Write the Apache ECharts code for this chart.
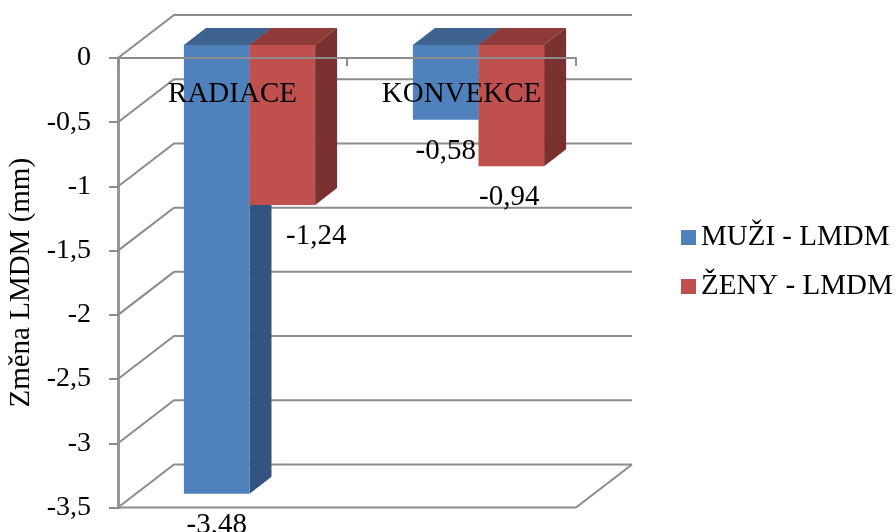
<!DOCTYPE html>
<html>
<head>
<meta charset="utf-8">
<script src="https://cdn.jsdelivr.net/npm/echarts@6/dist/echarts.min.js"></script>
<style>html,body{margin:0;padding:0;background:#fff}#c{width:896px;height:532px}</style>
</head>
<body>
<div id="c"></div>
<script>
// Values of the chart
const categories = ['RADIACE', 'KONVEKCE'];
const seriesNames = ['MUŽI - LMDM', 'ŽENY - LMDM'];
const muziValues = [-3.48, -0.58];
const zenyValues = [-1.24, -0.94];
const axisTicks = [0, -0.5, -1, -1.5, -2, -2.5, -3, -3.5];

// Fake 3D projection, in pixels
const WALL_DX = 56, WALL_DY = -43;    // depth of the chart box
const BAR_SHIFT_X = 17, BAR_SHIFT_Y = -13; // bars stand inside the box
const BAR_DX = 22, BAR_DY = -17;      // depth of one bar
const BAR_BAND = 0.2865;              // bar width as a share of a category band
const BAR_SCALE = 1.004;              // vertical perspective of the bar plane
const GRID = '#8c8c8c';
const FONT = '"Liberation Serif", "Times New Roman", serif';
const FONT_SIZE = 29;

const comma = v => String(v).replace('.', ',');
const poly = (points, fill) => ({ type: 'polygon', shape: { points }, style: { fill } });

function boxRender(params, api) {
  const rect = params.coordSys;
  const v = api.value(1);
  const y = api.coord([0, v])[1];
  const x0 = rect.x, x1 = rect.x + rect.width;
  const style = { stroke: GRID, lineWidth: 2, fill: null };
  const children = [{
    type: 'polyline',
    shape: { points: [[x0, y], [x0 + WALL_DX, y + WALL_DY], [x1 + WALL_DX, y + WALL_DY]] },
    style
  }];
  if (v === axisTicks[axisTicks.length - 1]) {
    children.push({
      type: 'polyline',
      shape: { points: [[x0, y], [x1, y], [x1 + WALL_DX, y + WALL_DY]] },
      style
    });
  }
  return { type: 'group', children };
}

function barRender(slot, front, top, side, labelShift) {
  return function (params, api) {
    const cat = api.value(0), v = api.value(1);
    const band = api.size([1, 0])[0];
    const w = band * BAR_BAND;
    const c = api.coord([cat, 0]);
    const b = api.coord([cat, v]);
    const xl = c[0] + BAR_SHIFT_X + (slot - 1) * w;
    const xr = xl + w;
    const yt = c[1] + BAR_SHIFT_Y;
    const yb = yt + (b[1] - c[1]) * BAR_SCALE;
    const shift = labelShift[params.dataIndex];
    return {
      type: 'group',
      children: [
        poly([[xl, yt], [xr, yt], [xr + BAR_DX, yt + BAR_DY], [xl + BAR_DX, yt + BAR_DY]], top),
        poly([[xr, yt], [xr + BAR_DX, yt + BAR_DY], [xr + BAR_DX, yb + BAR_DY], [xr, yb]], side),
        { type: 'rect', shape: { x: xl, y: yt, width: w, height: yb - yt }, style: { fill: front } },
        {
          type: 'text',
          z2: 10,
          style: {
            x: (xl + xr) / 2 + shift, y: yb + 31.5,
            text: comma(v), fill: '#000',
            font: FONT_SIZE + 'px ' + FONT,
            align: 'center', verticalAlign: 'middle'
          }
        }
      ]
    };
  };
}

const chart = echarts.init(document.getElementById('c'), null, { renderer: 'canvas' });
chart.setOption({
  animation: false,
  backgroundColor: '#fff',
  textStyle: { fontFamily: FONT, color: '#000' },
  grid: { left: 118, top: 58, width: 458, height: 449.5, outerBoundsMode: 'none' },
  legend: {
    orient: 'vertical', left: 676, top: 218,
    itemWidth: 15, itemHeight: 15, itemGap: 20, icon: 'rect',
    data: seriesNames,
    textStyle: { fontFamily: FONT, fontSize: FONT_SIZE, color: '#000' }
  },
  xAxis: {
    type: 'category', data: categories, z: 6, position: 'top',
    axisLine: { onZero: false, lineStyle: { color: GRID, width: 2 } },
    axisTick: { show: true, inside: true, length: 8, lineStyle: { color: GRID, width: 2 } },
    axisLabel: { inside: true, fontFamily: FONT, fontSize: FONT_SIZE, color: '#000', margin: 22 },
    splitLine: { show: false }
  },
  yAxis: {
    type: 'value', min: -3.5, max: 0, interval: 0.5,
    name: 'Změna LMDM (mm)', nameLocation: 'middle', nameRotate: 90, nameGap: 72,
    nameTextStyle: { fontFamily: FONT, fontSize: FONT_SIZE, color: '#000' },
    axisLine: { show: true, lineStyle: { color: '#979797', width: 3 } },
    axisTick: { show: true, length: 9, lineStyle: { color: GRID, width: 2 } },
    axisLabel: { fontFamily: FONT, fontSize: 28, color: '#000', margin: 27, padding: [5, 0, 0, 0], formatter: comma },
    splitLine: { show: false }
  },
  series: [
    {
      type: 'custom', z: 1, silent: true,
      encode: { x: 0, y: 1 },
      data: axisTicks.map(v => [0, v]),
      renderItem: boxRender
    },
    {
      name: seriesNames[0], type: 'custom', z: 2,
      itemStyle: { color: '#4F81BD' },
      encode: { x: 0, y: 1 },
      data: muziValues.map((v, i) => [i, v]),
      renderItem: barRender(0, '#4F81BD', '#3E638F', '#335480', [0, 0])
    },
    {
      name: seriesNames[1], type: 'custom', z: 3,
      itemStyle: { color: '#C0504D' },
      encode: { x: 0, y: 1 },
      data: zenyValues.map((v, i) => [i, v]),
      renderItem: barRender(1, '#C0504D', '#8F3B39', '#7A302F', [34, -2])
    }
  ]
});
</script>
</body>
</html>
